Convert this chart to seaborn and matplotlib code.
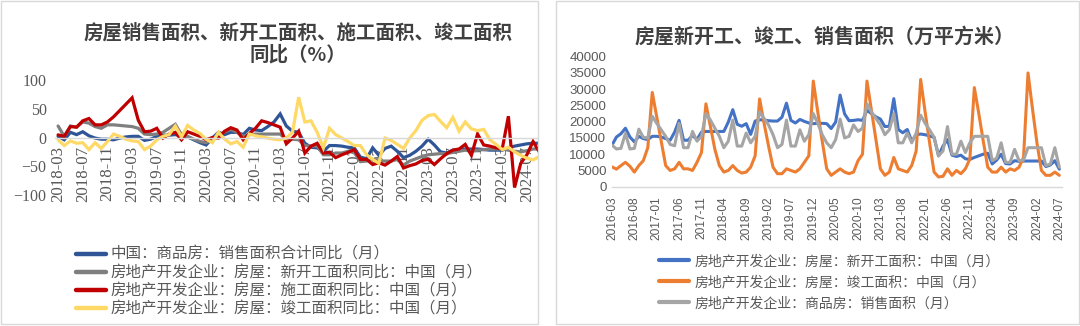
import numpy as np
import pandas as pd
import matplotlib
matplotlib.use("Agg")
import matplotlib.pyplot as plt
from matplotlib.patches import Rectangle
from matplotlib.lines import Line2D
import seaborn as sns

sns.set_style("white")
plt.rcParams['font.family'] = ['Noto Sans CJK SC', 'DejaVu Sans']
plt.rcParams['axes.unicode_minus'] = True

# ---------------- Left chart data (YoY %, monthly 2018-03 .. 2024-09) ----------------
left_months = pd.period_range("2018-03", "2024-09", freq="M").strftime("%Y-%m").tolist()
sales_yoy = [2, -4, 9, 5, 10, 3, -1, -3, -3, -4, -1, 1, 2, 2, -5, -3, 2, 4, 4, 5,
             3, 1, -4, -9, -13, -1, 9, 5, 9, 9, 5, 16, 13, 12, 19, 27, 41, 20, 11, 9,
             -10, -17, -18, -24, -14, -14, -15, -17, -18, -34, -37, -18, -31, -19, -15, -24, -35, -31, -24, -15,
             -3, -13, -25, -27, -22, -21, -20, -20, -20, -21, -22, -22, -22, -18, -15, -13, -11, -10, -10]
newstart_yoy = [20, 2, 20, 18, 27, 25, 19, 16, 22, 22, 21, 20, 19, 16, 6, 5, 6, 9, 16, 23,
                5, 2, -3, -7, -9, -3, 3, 10, 14, 9, 2, 5, 6, 6, 6, 6, 6, -4, -3, -4,
                -14, -15, -15, -30, -30, -27, -27, -24, -26, -42, -41, -38, -41, -41, -41, -38, -48, -41, -37, -33,
                -30, -29, -28, -28, -26, -24, -22, -24, -22, -21, -20, -20, -20, -22, -24, -25, -23, -20, -20]
construct_yoy = [4.6, 2, 19, 18, 29, 33, 22, 22, 27, 36, 47, 58, 69, 30, 10, 11, 16, -1, 6, 9,
                 -4, 10, 6, 2, -4, 0, -1, 11, 17, 13, -4, 7, 16, 29, 26, 22, 18, -11, -1, 11,
                 -27, -15, -10, -27, -26, -35, -30, -26, -21, -38, -38, -47, -44, -48, -41, -33, -53, -49, -46, -40,
                 -38, -47, -37, -28, -22, -20, -12, -31, 6, -13, -15, -18, -20, 37, -87, -45, -30, -7, -25]
complete_yoy = [-4, -14, -6, -10, -9, -21, -9, -19, -7, 6, 2, -3, -6, -7, -21, -15, -4, 2, 5, 20,
                1, 21, 13, 7, -3, -9, 9, -3, -11, -7, -17, 6, 3, 1, -1, -3, -4, -1, 9, 70,
                27, 29, 9, -18, 16, 5, -1, -7, -14, -14, -30, -38, -45, -1, -5, -12, -19, -1, 12, 30,
                38, 40, 28, 17, 35, 11, 27, 15, 12, 14, -4, -12, -21, -17, -25, -31, -36, -39, -33]
left_names = ["中国：商品房：销售面积合计同比（月）",
              "房地产开发企业：房屋：新开工面积同比：中国（月）",
              "房地产开发企业：房屋：施工面积同比：中国（月）",
              "房地产开发企业：房屋：竣工面积同比：中国（月）"]
left_colors = ["#2F5597", "#7F7F7F", "#C00000", "#FFD966"]

# ---------------- Right chart data (万平方米, monthly 2016-03 .. 2024-07) ----------------
right_months = pd.period_range("2016-03", "2024-07", freq="M").strftime("%Y-%m").tolist()
new_start = [12800, 15300, 16300, 18000, 15300, 13800, 15500, 14800, 14500, 15500,
             15500, 15300, 14800, 14300, 16800, 20400, 14300, 14300, 15800, 14500, 16800, 17000,
             17000, 17000, 17000, 17000, 19900, 23700, 19200, 18600, 19400, 16100, 20200, 20600,
             20500, 20300, 20200, 20200, 21400, 25700, 20400, 19600, 20700, 20100, 19600, 19400,
             19500, 19500, 19400, 17900, 19900, 28200, 22400, 20300, 20400, 20600, 20400, 23500,
             22500, 21500, 20800, 18500, 18600, 27100, 17600, 16600, 17600, 14000, 16000, 16200,
             16000, 15600, 15200, 9500, 12500, 14500, 9700, 9300, 9700, 8600, 8400, 9000,
             9500, 10000, 10300, 7000, 8200, 10000, 7100, 7000, 8000, 7800, 7900, 7900,
             7900, 7900, 7900, 6200, 6700, 8000, 5400]
completed = [6100, 5400, 6500, 7500, 6300, 4500, 6500, 8000, 12000, 29000,
             21500, 14000, 6500, 5000, 5500, 7500, 5500, 5500, 5000, 7500, 10500, 25500,
             18500, 11500, 6500, 4500, 5000, 6500, 5000, 4200, 4500, 6000, 9500, 27000,
             19500, 12500, 6000, 4000, 4000, 5500, 5000, 4500, 5500, 7500, 9500, 32500,
             23000, 14000, 5500, 3500, 4500, 5500, 4500, 4000, 4500, 8000, 10000, 32500,
             23500, 14500, 5500, 3500, 4500, 9000, 5500, 5000, 4500, 6500, 11000, 33000,
             23000, 13500, 4500, 3000, 3200, 5500, 3500, 5000, 4000, 5500, 8500, 30500,
             22500, 14000, 6000, 4500, 4500, 6000, 4500, 5500, 5000, 6000, 9000, 35000,
             24000, 13500, 5000, 3500, 3500, 4500, 3500]
sold = [12800, 11600, 11800, 16400, 11600, 11800, 17700, 15200, 15000, 21700,
        19500, 17500, 15500, 13000, 12600, 19500, 12000, 12000, 17000, 14000, 15500, 22500,
        20500, 18000, 15500, 12000, 14000, 20500, 12500, 12500, 16500, 13500, 15500, 23000,
        21000, 19000, 16000, 12000, 13000, 20500, 12500, 12500, 17500, 14000, 16000, 22500,
        19500, 16000, 13500, 12000, 14500, 20800, 15000, 15500, 19000, 17000, 18000, 25500,
        23000, 21000, 19000, 16000, 17500, 22500, 13500, 13500, 16500, 13500, 16500, 22000,
        19500, 17500, 15200, 9500, 11000, 18500, 10000, 10000, 14000, 10500, 13500, 15500,
        15500, 15500, 15500, 8000, 8800, 13500, 7500, 7500, 11500, 8000, 8200, 12000,
        12000, 12000, 12000, 6500, 7000, 12000, 6000]
right_names = ["房地产开发企业：房屋：新开工面积：中国（月）",
               "房地产开发企业：房屋：竣工面积：中国（月）",
               "房地产开发企业：商品房：销售面积（月）"]
right_colors = ["#4472C4", "#ED7D31", "#A5A5A5"]

W, H = 1080, 326
fig = plt.figure(figsize=(W / 100, H / 100), dpi=100)

def fx(px):
    return px / W

def fy(py):
    return 1 - py / H

# panel frames
fig.patches.append(Rectangle((fx(1), fy(324)), fx(538) - fx(1), fy(1) - fy(324),
                             transform=fig.transFigure, fill=False, edgecolor="#D9D9D9", lw=1.0))
fig.patches.append(Rectangle((fx(556), fy(324)), fx(1079) - fx(556), fy(1) - fy(324),
                             transform=fig.transFigure, fill=False, edgecolor="#D9D9D9", lw=1.0))

tick_col = "#595959"
axis_col = "#D9D9D9"

# ---------------- Left axes ----------------
ax1 = fig.add_axes([fx(55), fy(195), fx(538) - fx(55), fy(80) - fy(195)])
for name, vals, col in zip(left_names, [sales_yoy, newstart_yoy, construct_yoy, complete_yoy], left_colors):
    d = pd.DataFrame({"i": np.arange(len(vals)), "v": vals})
    sns.lineplot(data=d, x="i", y="v", ax=ax1, color=col, lw=2.3, legend=False, solid_joinstyle="miter")
ax1.set_xlim(-0.5, 77.8)
ax1.set_ylim(-100, 100)
ax1.set_xlabel("")
ax1.set_ylabel("")
for s in ["top", "right", "left"]:
    ax1.spines[s].set_visible(False)
ax1.spines["bottom"].set_position(("data", 0))
ax1.spines["bottom"].set_color(axis_col)
ax1.spines["bottom"].set_linewidth(1.0)
ax1.set_axisbelow(True)
lt = list(range(0, len(left_months), 4))
ax1.set_xticks(lt)
ax1.set_xticklabels([left_months[k] for k in lt], rotation=90, fontfamily="Liberation Serif",
                    fontsize=12.2, color=tick_col)
ax1.tick_params(axis="x", length=4, color=axis_col, pad=2)
ax1.set_yticks([-100, -50, 0, 50, 100])
ax1.set_yticklabels(["−100", "−50", "0", "50", "100"], fontfamily="Liberation Serif",
                    fontsize=11.5, color=tick_col)
ax1.tick_params(axis="y", length=0, pad=6)
ax1.grid(False)

fig.text(fx(298), fy(33), "房屋销售面积、新开工面积、施工面积、竣工面积", ha="center", va="center",
         fontsize=14, fontweight="bold", color="#404040")
fig.text(fx(298), fy(55), "同比（%）", ha="center", va="center",
         fontsize=14, fontweight="bold", color="#404040")

lh = [Line2D([], [], color=c, lw=3.2) for c in left_colors]
fig.legend(lh, left_names, loc="upper left", bbox_to_anchor=(fx(76), fy(246)),
           frameon=False, fontsize=11.2, handlelength=1.95, handletextpad=0.3,
           labelspacing=0.08, borderpad=0, borderaxespad=0, labelcolor=tick_col)

# ---------------- Right axes ----------------
ax2 = fig.add_axes([fx(612), fy(186.7), fx(1062) - fx(612), fy(56.7) - fy(186.7)])
for name, vals, col in zip(right_names, [new_start, completed, sold], right_colors):
    d = pd.DataFrame({"i": np.arange(len(vals)), "v": vals})
    sns.lineplot(data=d, x="i", y="v", ax=ax2, color=col, lw=2.2, legend=False)
ax2.set_xlim(0, 100.6)
ax2.set_ylim(0, 40000)
ax2.set_xlabel("")
ax2.set_ylabel("")
for s in ["top", "right", "left"]:
    ax2.spines[s].set_visible(False)
ax2.spines["bottom"].set_color(axis_col)
ax2.spines["bottom"].set_linewidth(1.0)
rt = list(range(0, len(right_months), 5))
ax2.set_xticks(rt)
ax2.set_xticklabels([right_months[k] for k in rt], rotation=90, fontfamily="Liberation Sans",
                    fontsize=8.6, color=tick_col)
ax2.tick_params(axis="x", length=5, color=axis_col, pad=2)
ax2.set_yticks(np.arange(0, 40001, 5000))
ax2.set_yticklabels([str(v) for v in range(0, 40001, 5000)], fontfamily="Liberation Sans",
                    fontsize=9.5, color=tick_col)
ax2.tick_params(axis="y", length=0, pad=4)
ax2.grid(False)

fig.text(fx(825), fy(36), "房屋新开工、竣工、销售面积（万平方米）", ha="center", va="center",
         fontsize=14.4, fontweight="bold", color="#404040")

rh = [Line2D([], [], color=c, lw=3) for c in right_colors]
fig.legend(rh, right_names, loc="upper left", bbox_to_anchor=(fx(659), fy(254)),
           frameon=False, fontsize=10, handlelength=2.15, handletextpad=0.4,
           labelspacing=0.5, borderpad=0, borderaxespad=0, labelcolor=tick_col)

fig.savefig("out.png", dpi=100)
